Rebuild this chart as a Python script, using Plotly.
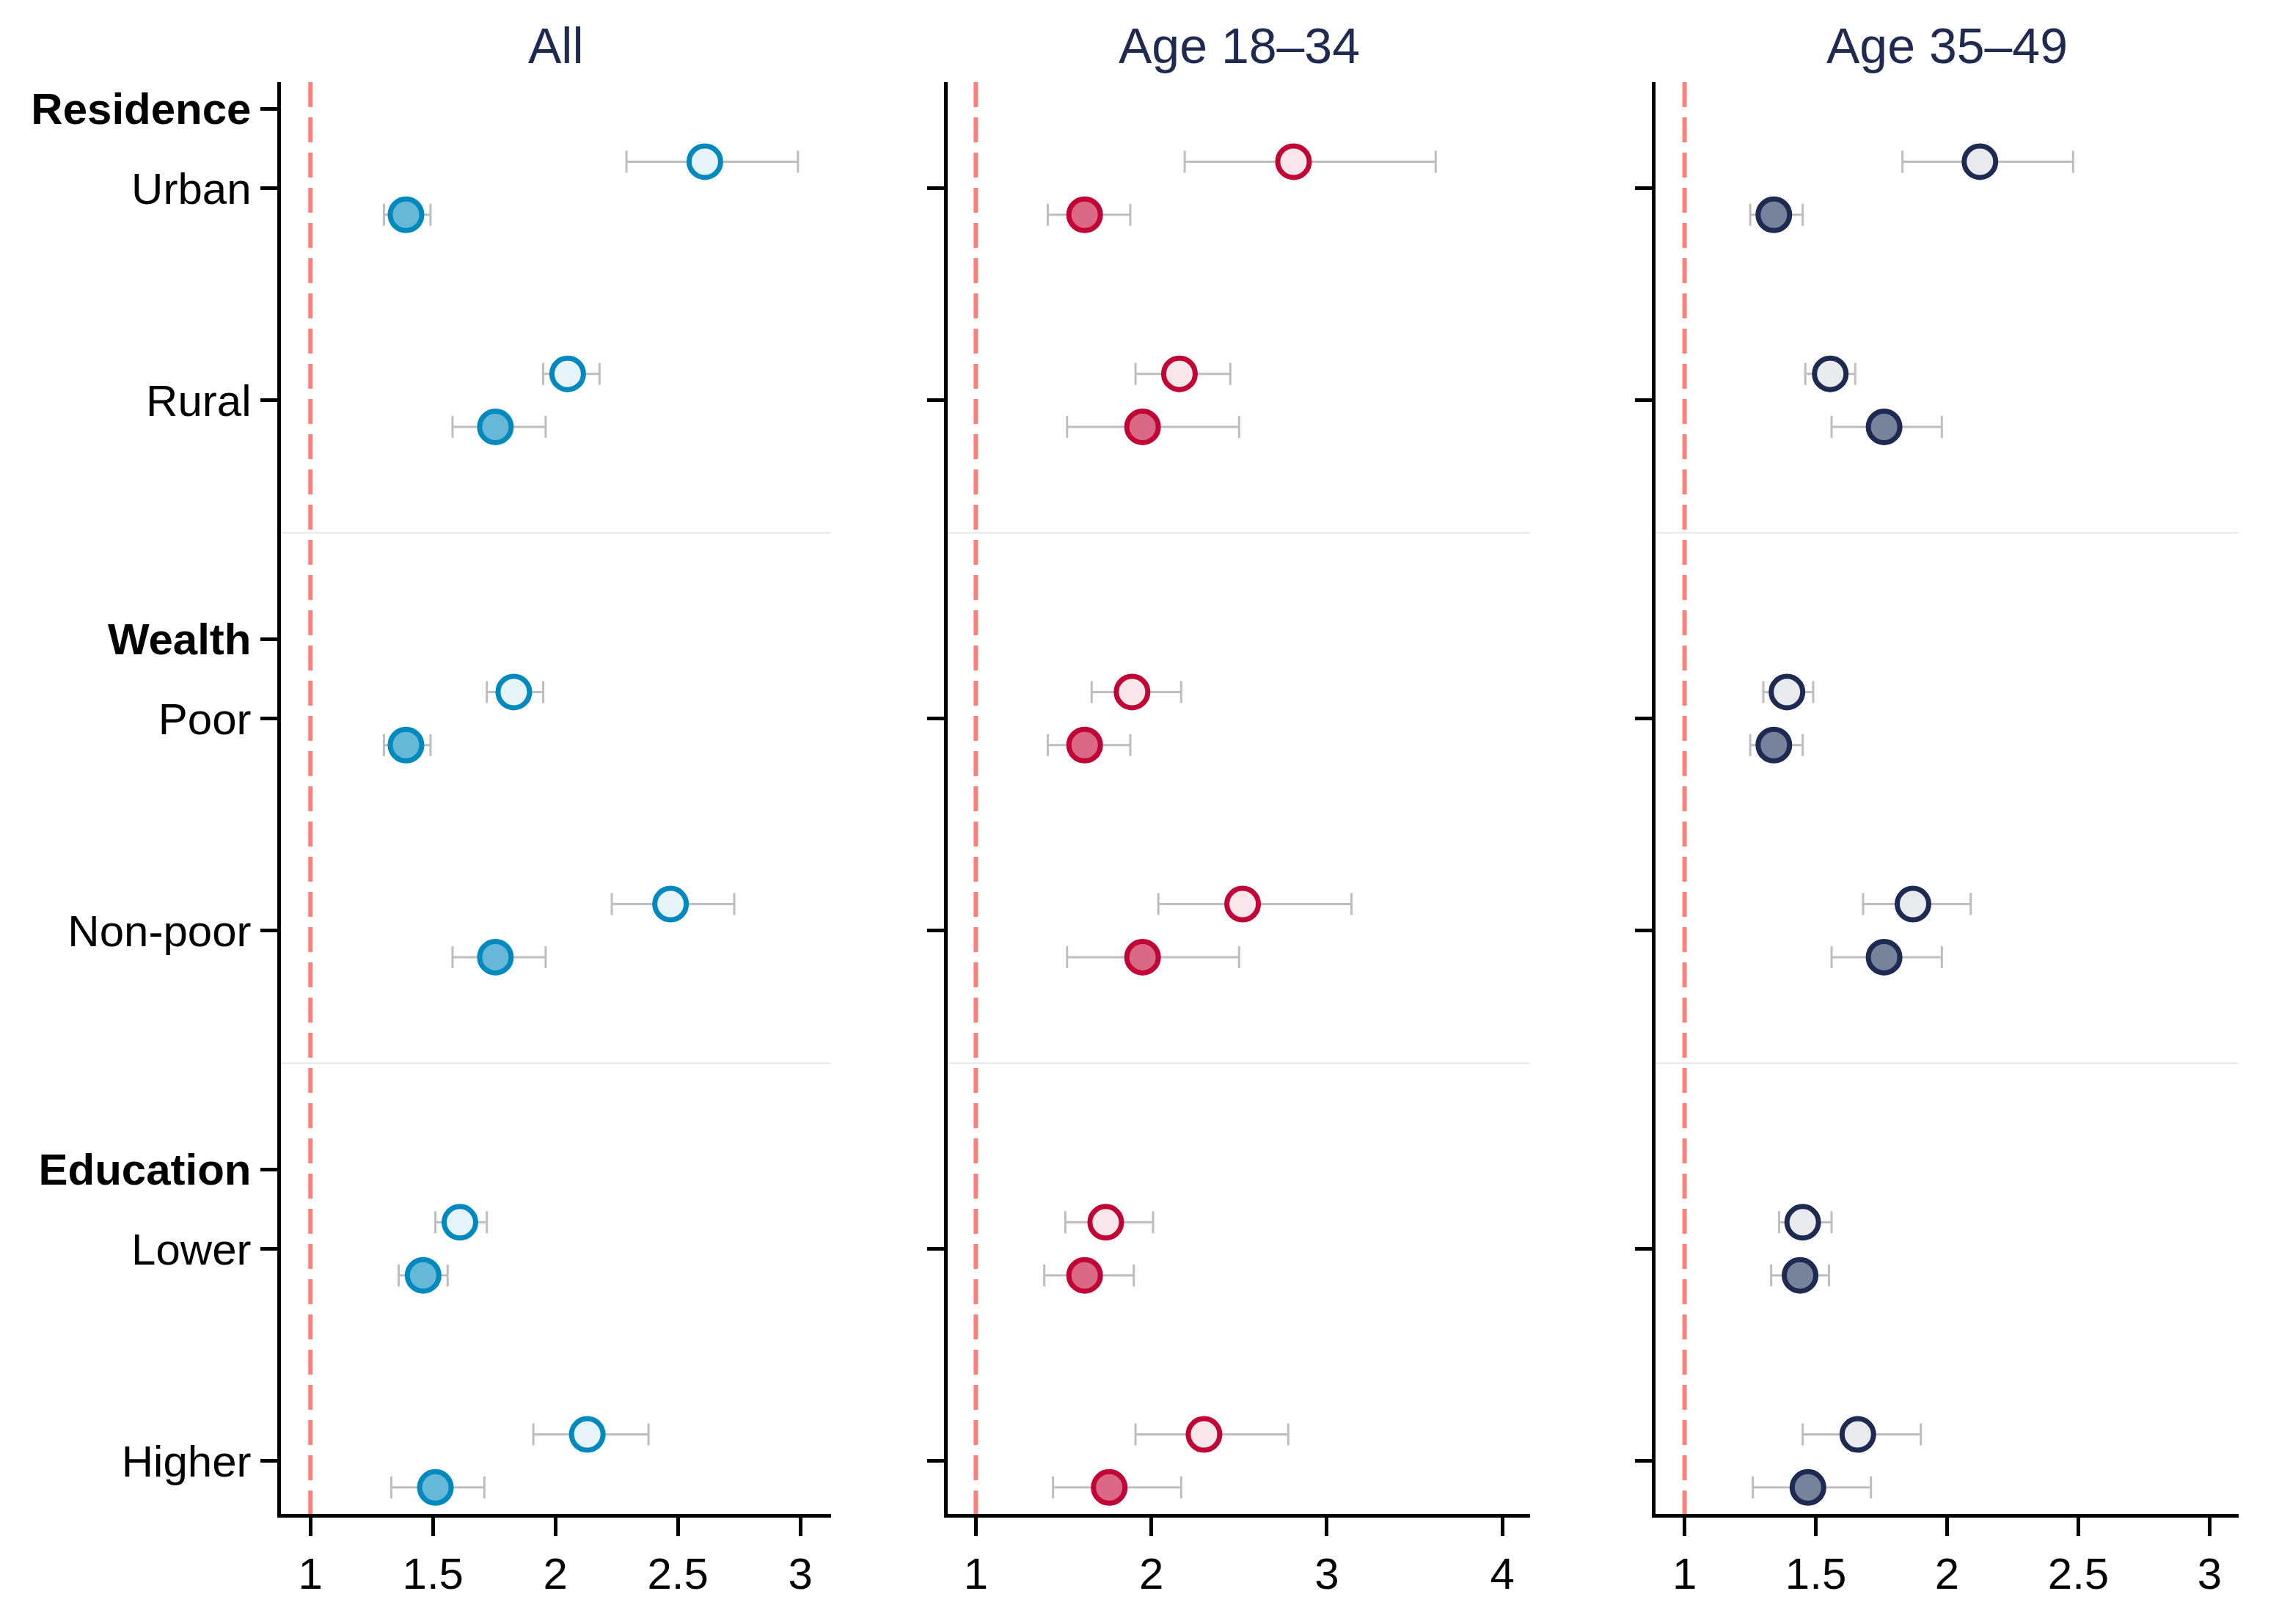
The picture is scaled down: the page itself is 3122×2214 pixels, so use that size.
import plotly.graph_objects as go

W, H = 3122, 2214

# ---------------- data ----------------
categories = ["Urban", "Rural", "Poor", "Non-poor", "Lower", "Higher"]
cat_pos = [0, 4, 10, 14, 20, 24]
headers = ["Residence", "Wealth", "Education"]
header_pos = [-1.5, 8.5, 18.5]
separators = [6.5, 16.5]
panel_titles = ["All", "Age 18–34", "Age 35–49"]

all_open = [2.61, 2.05, 1.83, 2.47, 1.61, 2.13]
all_open_lo = [2.29, 1.95, 1.72, 2.23, 1.51, 1.91]
all_open_hi = [2.99, 2.18, 1.95, 2.73, 1.72, 2.38]
all_fill = [1.39, 1.755, 1.39, 1.755, 1.46, 1.51]
all_fill_lo = [1.30, 1.58, 1.30, 1.58, 1.36, 1.33]
all_fill_hi = [1.49, 1.96, 1.49, 1.96, 1.56, 1.71]

y1834_open = [2.81, 2.16, 1.89, 2.52, 1.74, 2.30]
y1834_open_lo = [2.19, 1.91, 1.66, 2.04, 1.51, 1.91]
y1834_open_hi = [3.62, 2.45, 2.17, 3.14, 2.01, 2.78]
y1834_fill = [1.62, 1.95, 1.62, 1.95, 1.62, 1.76]
y1834_fill_lo = [1.41, 1.52, 1.41, 1.52, 1.39, 1.44]
y1834_fill_hi = [1.88, 2.50, 1.88, 2.50, 1.90, 2.17]

y3549_open = [2.125, 1.555, 1.39, 1.87, 1.45, 1.66]
y3549_open_lo = [1.83, 1.46, 1.30, 1.68, 1.36, 1.45]
y3549_open_hi = [2.48, 1.65, 1.49, 2.09, 1.56, 1.90]
y3549_fill = [1.34, 1.76, 1.34, 1.76, 1.44, 1.47]
y3549_fill_lo = [1.25, 1.56, 1.25, 1.56, 1.33, 1.26]
y3549_fill_hi = [1.45, 1.98, 1.45, 1.98, 1.55, 1.71]

x_ticks_1 = [1, 1.5, 2, 2.5, 3]
x_ticks_2 = [1, 2, 3, 4]
x_ticks_3 = [1, 1.5, 2, 2.5, 3]
reference_value = 1

# ---------------- styling ----------------
panels = [
    dict(open=all_open, olo=all_open_lo, ohi=all_open_hi,
         fill=all_fill, flo=all_fill_lo, fhi=all_fill_hi,
         edge="#0089BF", light="#E6F3F9", dark="#66B8D6",
         xr=[0.878, 3.124], dom=[382.5, 1132.6], ticks=x_ticks_1),
    dict(open=y1834_open, olo=y1834_open_lo, ohi=y1834_open_hi,
         fill=y1834_fill, flo=y1834_fill_lo, fhi=y1834_fill_hi,
         edge="#C10435", light="#F9E6EB", dark="#DA6987",
         xr=[0.841, 4.157], dom=[1292.3, 2085.8], ticks=x_ticks_2),
    dict(open=y3549_open, olo=y3549_open_lo, ohi=y3549_open_hi,
         fill=y3549_fill, flo=y3549_fill_lo, fhi=y3549_fill_hi,
         edge="#1D2B53", light="#E9EAEE", dark="#77839B",
         xr=[0.888, 3.110], dom=[2256.5, 3051.8], ticks=x_ticks_3),
]

FONT = "Liberation Sans, Arial, Helvetica, sans-serif"
y_dom = [150 / H, 1 - 112 / H]
y_range = [25, -2]

fig = go.Figure()
layout_axes = {}
annotations = []

for i, p in enumerate(panels):
    n = "" if i == 0 else str(i + 1)
    xa, ya = "x" + n, "y" + n

    # dashed reference line
    fig.add_trace(go.Scatter(
        x=[reference_value, reference_value], y=[y_range[1], y_range[0]],
        mode="lines", line=dict(color="#FF8080", width=6, dash="34px,14px"),
        xaxis=xa, yaxis=ya, hoverinfo="skip", showlegend=False))

    # separators
    for s in separators:
        fig.add_trace(go.Scatter(
            x=[p["xr"][0], p["xr"][1]], y=[s, s], mode="lines",
            line=dict(color="#E6E6E6", width=2),
            xaxis=xa, yaxis=ya, hoverinfo="skip", showlegend=False))

    y_open = [c - 0.5 for c in cat_pos]
    y_fill = [c + 0.5 for c in cat_pos]

    fig.add_trace(go.Scatter(
        x=p["open"], y=y_open, mode="markers",
        error_x=dict(type="data", symmetric=False,
                     array=[h - v for h, v in zip(p["ohi"], p["open"])],
                     arrayminus=[v - l for v, l in zip(p["open"], p["olo"])],
                     color="#BEBEBE", thickness=3, width=15),
        marker=dict(size=43, color=p["light"], line=dict(color=p["edge"], width=7)),
        xaxis=xa, yaxis=ya, showlegend=False))

    fig.add_trace(go.Scatter(
        x=p["fill"], y=y_fill, mode="markers",
        error_x=dict(type="data", symmetric=False,
                     array=[h - v for h, v in zip(p["fhi"], p["fill"])],
                     arrayminus=[v - l for v, l in zip(p["fill"], p["flo"])],
                     color="#BEBEBE", thickness=3, width=15),
        marker=dict(size=43, color=p["dark"], line=dict(color=p["edge"], width=7)),
        xaxis=xa, yaxis=ya, showlegend=False))

    layout_axes["xaxis" + n] = dict(
        domain=[p["dom"][0] / W, p["dom"][1] / W], range=p["xr"],
        anchor=ya, showgrid=False, zeroline=False,
        showline=True, linecolor="black", linewidth=5,
        ticks="outside", ticklen=25, tickwidth=5, tickcolor="black",
        tickvals=p["ticks"], ticktext=[f"{t:g}" for t in p["ticks"]],
        tickfont=dict(family=FONT, size=60, color="black"),
        fixedrange=True)

    if i == 0:
        tv = sorted(cat_pos + header_pos)
        lab = {c: t for c, t in zip(cat_pos, categories)}
        lab.update({h: f"<b>{t}</b>" for h, t in zip(header_pos, headers)})
        tt = [lab[v] for v in tv]
    else:
        tv = cat_pos
        tt = ["" for _ in cat_pos]

    layout_axes["yaxis" + n] = dict(
        domain=y_dom, range=y_range, anchor=xa,
        showgrid=False, zeroline=False,
        showline=True, linecolor="black", linewidth=5,
        ticks="outside", ticklen=23, tickwidth=5, tickcolor="black",
        tickvals=tv, ticktext=tt, showticklabels=(i == 0),
        tickfont=dict(family=FONT, size=60, color="black"),
        fixedrange=True)

    annotations.append(dict(
        text=panel_titles[i], xref="paper", yref="paper",
        x=(p["dom"][0] + p["dom"][1]) / 2 / W, y=1 - 62 / H,
        xanchor="center", yanchor="middle", showarrow=False,
        font=dict(family=FONT, size=68, color="#1E2A4F")))

fig.update_layout(
    width=W, height=H,
    margin=dict(l=0, r=0, t=0, b=0),
    paper_bgcolor="white", plot_bgcolor="white",
    showlegend=False,
    annotations=annotations,
    **layout_axes)

fig.write_html(
    "out.html",
    config={"displayModeBar": False, "staticPlot": True},
    post_script="document.body.style.margin='0';document.body.style.overflow='hidden';")
